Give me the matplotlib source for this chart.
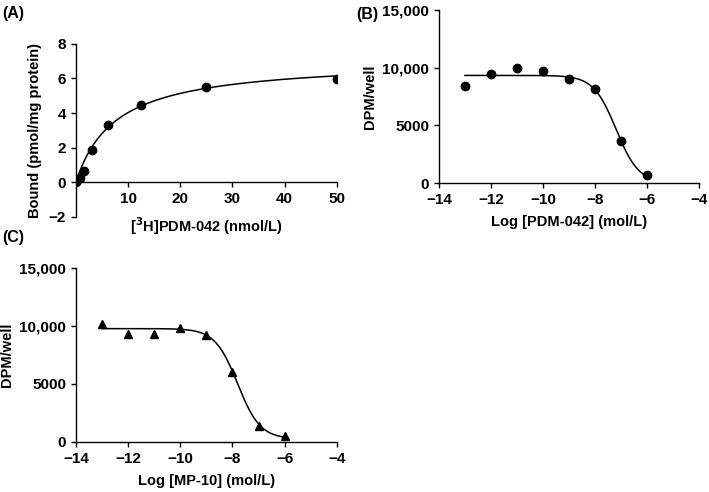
import matplotlib.pyplot as plt
import numpy as np

plt.rcParams['font.family'] = ['Liberation Sans', 'DejaVu Sans']
plt.rcParams['font.weight'] = 'bold'
plt.rcParams['axes.labelweight'] = 'bold'

# (A) saturation binding
conc_a = [0, 0.78, 1.56, 3.125, 6.25, 12.5, 25, 50]
bound_a = [0, 0.27, 0.65, 1.85, 3.3, 4.47, 5.5, 5.97]
bmax_a = 7.08
kd_a = 7.58

# (B) PDM-042 competition
logc_b = [-13, -12, -11, -10, -9, -8, -7, -6]
dpm_b = [8370, 9440, 9960, 9670, 8980, 8170, 3650, 670]
top_b, bottom_b, ic50_b = 9320, 0, -7.19

# (C) MP-10 competition
logc_c = [-13, -12, -11, -10, -9, -8, -7, -6]
dpm_c = [10140, 9310, 9280, 9800, 9220, 5980, 1350, 490]
top_c, bottom_c, ic50_c = 9750, 250, -7.8

fig = plt.figure(figsize=(7.09, 4.92), dpi=100)


def style(ax):
    for s in ['top', 'right']:
        ax.spines[s].set_visible(False)
    for s in ['left', 'bottom']:
        ax.spines[s].set_linewidth(1.0)
    ax.tick_params(direction='out', length=3.5, width=1.0, labelsize=11)
    for lab in ax.get_xticklabels() + ax.get_yticklabels():
        lab.set_fontweight('bold')


# panel A
ax1 = fig.add_axes([0.107, 0.559, 0.368, 0.352])
xs = np.linspace(0, 50, 300)
ax1.plot(xs, bmax_a * xs / (kd_a + xs), color='black', lw=1.1)
ax1.plot(conc_a, bound_a, 'o', color='black', ms=6)
ax1.set_xlim(0, 50)
ax1.set_ylim(-2, 8)
ax1.set_yticks([-2, 0, 2, 4, 6, 8])
ax1.set_yticklabels(['\u22122', '0', '2', '4', '6', '8'])
ax1.set_xticks([10, 20, 30, 40, 50])
ax1.spines['bottom'].set_position(('data', 0))
style(ax1)
ax1.set_ylabel('Bound (pmol/mg protein)', fontsize=10.5, labelpad=5)
ax1.text(25, -2.55, r'[$\mathbf{^3}$H]PDM-042 (nmol/L)', ha='center', va='center',
         fontsize=10.5, fontweight='bold')
fig.text(0.003, 0.973, '(A)', fontsize=11.5, fontweight='bold', va='center')


def sigmoid_panel(rect, xv, yv, top, bottom, ic50, marker, xlabel):
    ax = fig.add_axes(rect)
    xs = np.linspace(-13, -6, 300)
    ax.plot(xs, bottom + (top - bottom) / (1 + 10 ** (xs - ic50)), color='black', lw=1.1)
    ax.plot(xv, yv, marker, color='black', ms=6, ls='none')
    ax.set_xlim(-14, -4)
    ax.set_ylim(0, 15000)
    ax.set_xticks([-14, -12, -10, -8, -6, -4])
    ax.set_xticklabels(['\u221214', '\u221212', '\u221210', '\u22128', '\u22126', '\u22124'])
    ax.set_yticks([0, 5000, 10000, 15000])
    ax.set_yticklabels(['0', '5000', '10,000', '15,000'])
    style(ax)
    ax.set_ylabel('DPM/well', fontsize=10.5, labelpad=4)
    ax.set_xlabel(xlabel, fontsize=10.5, labelpad=6)
    return ax


ax2 = sigmoid_panel([0.619, 0.628, 0.367, 0.352], logc_b, dpm_b, top_b, bottom_b, ic50_b,
                    'o', 'Log [PDM-042] (mol/L)')
fig.text(0.503, 0.97, '(B)', fontsize=11.5, fontweight='bold', va='center')

ax3 = sigmoid_panel([0.107, 0.102, 0.368, 0.354], logc_c, dpm_c, top_c, bottom_c, ic50_c,
                    '^', 'Log [MP-10] (mol/L)')
fig.text(0.003, 0.518, '(C)', fontsize=11.5, fontweight='bold', va='center')

fig.savefig('out.png', dpi=100)
